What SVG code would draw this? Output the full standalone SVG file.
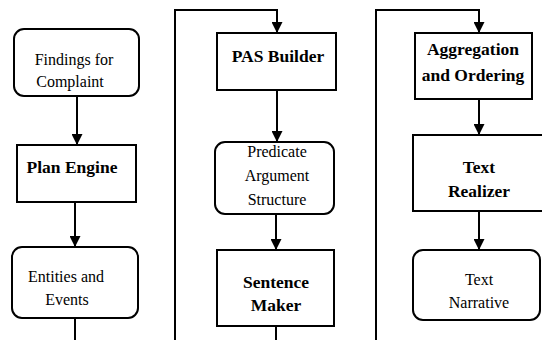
<svg xmlns="http://www.w3.org/2000/svg" width="542" height="340" viewBox="0 0 542 340">
  <style>
    .box { fill: #ffffff; stroke: #000000; stroke-width: 2; }
    .wire { fill: none; stroke: #000000; stroke-width: 2; }
    text { font-family: 'Liberation Serif', 'Times New Roman', serif; font-size: 16px; fill: #000000; text-anchor: middle; }
    text.bold { font-weight: bold; font-size: 17.5px; }
  </style>
  <defs>
    <marker id="head" viewBox="0 0 11 11" refX="11" refY="5.5" markerWidth="11" markerHeight="11" markerUnits="userSpaceOnUse" orient="auto">
      <path d="M0,0 L11,5.5 L0,11 z" fill="#000000"/>
    </marker>
  </defs>
  <rect width="542" height="340" fill="#ffffff"/>

  <!-- connectors -->
  <g id="connectors">
    <path class="wire" d="M77,96 L77,145" marker-end="url(#head)"/>
    <path class="wire" d="M75,202 L75,247" marker-end="url(#head)"/>
    <path class="wire" d="M75,318 L75,340"/>

    <path class="wire" d="M175,340 L175,10 L277,10 L277,33" marker-end="url(#head)"/>
    <path class="wire" d="M277,90 L277,142" marker-end="url(#head)"/>
    <path class="wire" d="M276,214 L276,250" marker-end="url(#head)"/>
    <path class="wire" d="M276,326 L276,340"/>

    <path class="wire" d="M376,340 L376,10 L479,10 L479,33" marker-end="url(#head)"/>
    <path class="wire" d="M479,99 L479,135" marker-end="url(#head)"/>
    <path class="wire" d="M479,211 L479,250" marker-end="url(#head)"/>
  </g>

  <!-- first column -->
  <g id="findings">
    <rect class="box" x="14" y="29" width="125" height="67" rx="10"/>
    <text x="74" y="65">Findings for</text>
    <text x="70" y="87">Complaint</text>
  </g>
  <g id="plan-engine">
    <rect class="box" x="17" y="145" width="119" height="57"/>
    <text class="bold" x="72" y="173">Plan Engine</text>
  </g>
  <g id="entities">
    <rect class="box" x="12" y="247" width="126" height="71" rx="10"/>
    <text x="66" y="282">Entities and</text>
    <text x="67" y="305">Events</text>
  </g>

  <!-- second column -->
  <g id="pas-builder">
    <rect class="box" x="217" y="33" width="119" height="57"/>
    <text class="bold" x="278" y="62">PAS Builder</text>
  </g>
  <g id="pas">
    <rect class="box" x="215" y="142" width="119" height="72" rx="10"/>
    <text x="277" y="157">Predicate</text>
    <text x="277" y="181">Argument</text>
    <text x="277" y="205">Structure</text>
  </g>
  <g id="sentence-maker">
    <rect class="box" x="217" y="250" width="117" height="76"/>
    <text class="bold" x="276" y="288">Sentence</text>
    <text class="bold" x="276" y="311">Maker</text>
  </g>

  <!-- third column -->
  <g id="aggregation">
    <rect class="box" x="415" y="33" width="117" height="66"/>
    <text class="bold" x="473" y="55">Aggregation</text>
    <text class="bold" x="473" y="81">and Ordering</text>
  </g>
  <g id="text-realizer">
    <rect class="box" x="413" y="135" width="134" height="76"/>
    <text class="bold" x="479" y="173">Text</text>
    <text class="bold" x="479" y="197">Realizer</text>
  </g>
  <g id="text-narrative">
    <rect class="box" x="413" y="250" width="127" height="70" rx="10"/>
    <text x="479" y="285">Text</text>
    <text x="479" y="308">Narrative</text>
  </g>
</svg>
